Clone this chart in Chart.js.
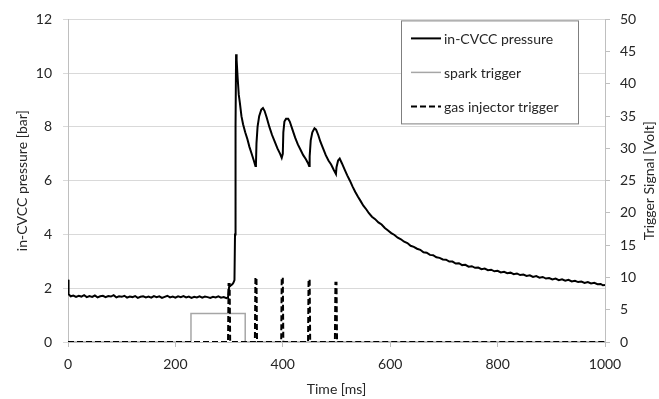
<!DOCTYPE html>
<html>
<head>
<meta charset="utf-8">
<script src="https://cdn.jsdelivr.net/npm/chart.js@4"></script>
<style>
body{margin:0;background:#fff}
#wrap{width:659px;height:399px}
</style>
</head>
<body>
<div id="wrap"><canvas id="cvcc" width="659" height="399"></canvas></div>
<script>
// pressure trace
const pressureTime = [0,1,5,10,15,20,25,30,35,40,45,50,55,60,65,70,75,80,85,90,95,100,105,110,115,120,125,130,135,140,145,150,155,160,165,170,175,180,185,190,195,200,205,210,215,220,225,230,235,240,245,250,255,260,265,270,275,280,285,290,295,298,
300,303,306,308,310,311,312,313,314,316,318,320,323,326,330,334,338,342,346,349,350,351,353,356,360,363,366,370,375,380,385,390,395,398,400,401,403,406,410,413,418,423,428,433,438,443,447,449,450,452,455,459,462,466,470,475,480,485,490,495,499,500,503,506,510,515,520,525,530,535,540,545,550,556,
560,566,572,578,584,590,596,602,608,614,620,626,632,638,644,650,656,662,668,674,680,686,692,698,704,710,716,722,728,734,740,746,752,758,764,770,776,782,788,794,800,806,812,818,824,830,836,842,848,854,860,866,872,878,884,890,896,902,908,914,920,926,932,938,944,950,956,962,968,974,980,986,992,996,1000]
const pressureBar = [2.32,1.78,1.70,1.73,1.68,1.72,1.69,1.74,1.67,1.71,1.68,1.73,1.66,1.70,1.72,1.67,1.71,1.69,1.74,1.66,1.70,1.68,1.72,1.65,1.69,1.67,1.71,1.64,1.68,1.70,1.66,1.69,1.65,1.71,1.67,1.70,1.64,1.68,1.72,1.66,1.69,1.65,1.70,1.67,1.71,1.66,1.69,1.64,1.68,1.66,1.70,1.65,1.69,1.67,1.64,1.68,1.66,1.70,1.65,1.67,1.63,1.66,
2.05,2.10,2.15,2.20,2.30,4.0,8.0,10.7,10.5,9.8,9.2,8.9,8.4,8.1,7.8,7.55,7.25,7.0,6.75,6.55,6.6,7.4,8.0,8.4,8.65,8.7,8.6,8.35,8.0,7.7,7.45,7.2,7.0,6.85,7.0,7.8,8.2,8.3,8.3,8.2,7.9,7.6,7.35,7.15,6.95,6.8,6.65,6.55,6.9,7.5,7.8,7.95,7.9,7.7,7.45,7.2,6.95,6.75,6.6,6.4,6.25,6.5,6.75,6.82,6.65,6.42,6.2,6.0,5.78,5.58,5.4,5.24,5.07,4.92,
4.80,4.66,4.57,4.45,4.37,4.24,4.15,4.05,3.98,3.88,3.82,3.73,3.68,3.58,3.54,3.47,3.43,3.34,3.32,3.24,3.23,3.15,3.13,3.07,3.06,2.99,2.99,2.92,2.93,2.86,2.87,2.80,2.82,2.76,2.77,2.71,2.73,2.67,2.69,2.63,2.65,2.59,2.61,2.56,2.58,2.52,2.55,2.49,2.51,2.46,2.48,2.42,2.45,2.39,2.42,2.36,2.38,2.33,2.36,2.30,2.33,2.28,2.31,2.25,2.28,2.23,2.25,2.20,2.23,2.18,2.20,2.15,2.16,2.11,2.12]

// spark trigger (Volt)
const sparkTime = [0,229,229,330,330,1000]
const sparkVolt = [0,0,4.4,4.4,0,0]

// gas injector trigger (Volt)
const injTime = [0,298,299,301,302,348,349,351,352,397,398,400,401,447,448,450,451,497,498,500,501,1000]
const injVolt = [0,0,9.0,9.0,0,0,10,10,0,0,10,10,0,0,9.7,9.7,0,0,9.2,9.2,0,0]

const xTicks = [0,200,400,600,800,1000]
const leftTicks = [0,2,4,6,8,10,12]
const rightTicks = [0,5,10,15,20,25,30,35,40,45,50]

const FONT = "Lato, 'Open Sans', sans-serif"
const TXT = "#262626"

function pts(xs, ys){
return xs.map((x,i)=>({x:x, y:ys[i]}))
}

// legend in a box, top right inside the plot + right axis title (reads bottom-up)
const boxLegend = {
id:"boxLegend",
afterDraw(chart){
const ctx = chart.ctx
const a = chart.chartArea
const left = a.right - 204, top = a.top + 1, w = 177, h = 103
ctx.save()
ctx.fillStyle = "#fff"
ctx.fillRect(left, top, w, h)
ctx.strokeStyle = "#7f7f7f"
ctx.lineWidth = 1
ctx.strokeRect(left+0.5, top+0.5, w, h)
ctx.font = "14px " + FONT
ctx.textBaseline = "middle"
chart.data.datasets.forEach((d,i)=>{
const y = top + 18 + i*34
ctx.strokeStyle = d.borderColor
ctx.lineWidth = d.borderWidth
ctx.setLineDash(d.borderDash || [])
ctx.beginPath()
ctx.moveTo(left+10, y)
ctx.lineTo(left+40, y)
ctx.stroke()
ctx.setLineDash([])
ctx.fillStyle = TXT
ctx.fillText(d.label, left+43, y+1)
})

// right title
ctx.translate(649, (a.top + a.bottom)/2)
ctx.rotate(-Math.PI/2)
ctx.textAlign = "center"
ctx.fillStyle = TXT
ctx.fillText("Trigger Signal [Volt]", 0, 0)
ctx.restore()
}
}

new Chart(document.getElementById("cvcc"),{
type:"line",
data:{
datasets:[
{label:"in-CVCC pressure", data:pts(pressureTime, pressureBar), yAxisID:"y", borderColor:"#000", borderWidth:2, order:0},
{label:"spark trigger", data:pts(sparkTime, sparkVolt), yAxisID:"y2", borderColor:"#a6a6a6", borderWidth:1.5, order:2},
{label:"gas injector trigger", data:pts(injTime, injVolt), yAxisID:"y2", borderColor:"#000", borderWidth:2, borderDash:[6,3], order:1}
]
},
options:{
responsive:false,
animation:false,
layout:{padding:{top:18, left:0, right:0, bottom:0}},
elements:{point:{radius:0}, line:{tension:0}},
plugins:{legend:{display:false}, tooltip:{enabled:false}},
scales:{
x:{
type:"linear", min:0, max:1000,
afterBuildTicks:s=>{ s.ticks = xTicks.map(v=>({value:v})) },
afterFit:s=>{ s.height = 57 },
grid:{drawOnChartArea:false, color:"#bfbfbf", tickLength:5},
border:{color:"#bfbfbf"},
ticks:{color:TXT, font:{family:FONT, size:14}, padding:9, maxRotation:0, callback:v=>String(v)},
title:{display:true, text:"Time [ms]", color:TXT, font:{family:FONT, size:14}, padding:{top:0, bottom:1}}
},
y:{
position:"left", min:0, max:12,
afterBuildTicks:s=>{ s.ticks = leftTicks.map(v=>({value:v})) },
afterFit:s=>{ s.width = 68 },
grid:{color:"#d9d9d9", tickLength:5},
border:{color:"#bfbfbf"},
ticks:{color:TXT, font:{family:FONT, size:14}, padding:11},
title:{display:true, text:"in-CVCC pressure [bar]", color:TXT, font:{family:FONT, size:14}, padding:{top:14, bottom:0}}
},
y2:{
position:"right", min:0, max:50,
afterBuildTicks:s=>{ s.ticks = rightTicks.map(v=>({value:v})) },
afterFit:s=>{ s.width = 54 },
grid:{drawOnChartArea:false, color:"#bfbfbf", tickLength:5},
border:{color:"#bfbfbf"},
ticks:{color:TXT, font:{family:FONT, size:14}, padding:10}
}
}
},
plugins:[boxLegend]
})
</script>
</body>
</html>
